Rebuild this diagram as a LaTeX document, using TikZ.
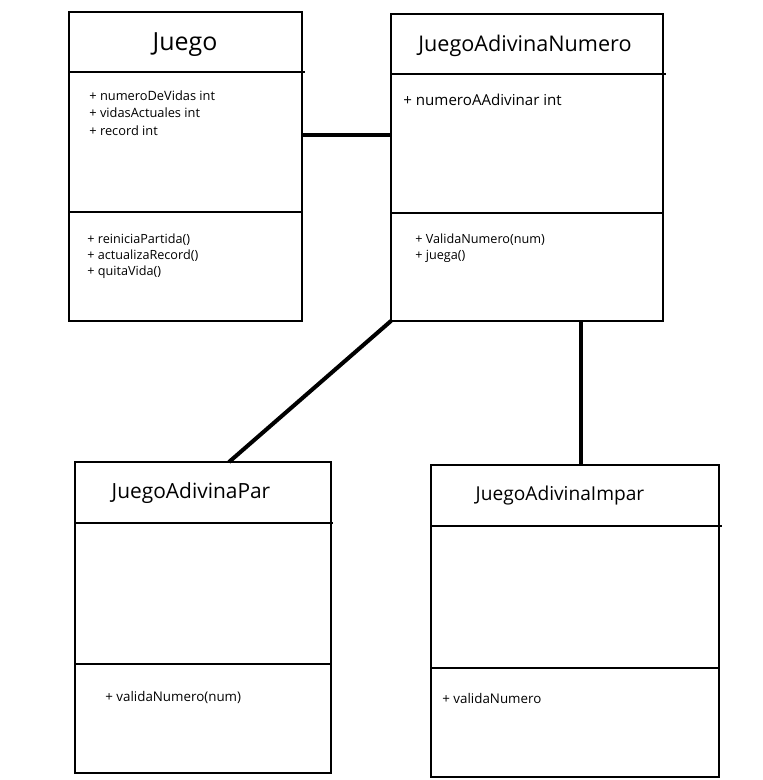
\documentclass[tikz,border=0pt]{standalone}
\usepackage{fontspec}
\setmainfont{Open Sans}
\usepackage{tikz}
\usetikzlibrary{calc}

\tikzset{
    clase/.style={draw, line width=0.85pt, inner sep=0pt, outer sep=0pt, anchor=north west},
    titulo/.style={font=\fontsize{11.8}{13}\selectfont},
    miembros/.style={anchor=west, align=left, inner sep=0pt, font=\fontsize{7.3}{9.8}\selectfont},
    conector/.style={line width=2.3pt}
}

\begin{document}
\begin{tikzpicture}[x=0.02cm, y=-0.02cm]
    \useasboundingbox (0,0) rectangle (763,780);

    % Draw class boxes
    \node[clase, minimum width=4.66cm, minimum height=6.18cm] (juego) at (69,12) {};
    \node[clase, minimum width=5.44cm, minimum height=6.14cm] (adivinaNumero) at (391,14) {};
    \node[clase, minimum width=5.12cm, minimum height=6.22cm] (adivinaPar) at (75,462) {};
    \node[clase, minimum width=5.76cm, minimum height=6.24cm] (adivinaImpar) at (431,465) {};

    % Draw dividers
    \draw[line width=0.85pt] (69,72) -- (305,72);
    \draw[line width=0.85pt] (69,212) -- (302,212);
    \draw[line width=0.85pt] (391,74) -- (666,74);
    \draw[line width=0.85pt] (391,213) -- (663,213);
    \draw[line width=0.85pt] (75,523) -- (333,523);
    \draw[line width=0.85pt] (75,664) -- (331,664);
    \draw[line width=0.85pt] (431,526) -- (722,526);
    \draw[line width=0.85pt] (431,668) -- (719,668);

    % Class names
    \node[titulo, font=\fontsize{14.2}{16}\selectfont] (tJuego) at (185,45) {Juego};
    \node[titulo, font=\fontsize{12.3}{14}\selectfont] (tNumero) at (525,46) {JuegoAdivinaNumero};
    \node[titulo, font=\fontsize{11.9}{13}\selectfont] (tPar) at (191,493) {JuegoAdivinaPar};
    \node[titulo, font=\fontsize{10.9}{13}\selectfont] (tImpar) at (560,496) {JuegoAdivinaImpar};

    % Attributes
    \node[miembros] (aJuego) at (89,113) {+ numeroDeVidas int\\+ vidasActuales int\\+ record int};
    \node[miembros, font=\fontsize{8.6}{10}\selectfont] (aNumero) at (403,100) {+ numeroAAdivinar int};

    % Methods
    \node[miembros, font=\fontsize{7.2}{9.2}\selectfont] (mJuego) at (87,256) {+ reiniciaPartida()\\+ actualizaRecord()\\+ quitaVida()};
    \node[miembros, font=\fontsize{7.2}{9.4}\selectfont] (mNumero) at (415,248) {+ ValidaNumero(num)\\+ juega()};
    \node[miembros, font=\fontsize{7.6}{9}\selectfont] (mPar) at (105,697) {+ validaNumero(num)};
    \node[miembros, font=\fontsize{7.6}{9}\selectfont] (mImpar) at (442,698) {+ validaNumero};

    % Relations
    \coordinate (enlace) at (0,135);
    \coordinate (parArriba) at (229,462);
    \coordinate (imparArriba) at (581,465);
    \draw[conector] (juego.east |- enlace) -- (adivinaNumero.west |- enlace);
    \draw[conector] (adivinaNumero.south west) -- (parArriba);
    \draw[conector] (imparArriba) -- (imparArriba |- adivinaNumero.south);
\end{tikzpicture}
\end{document}
